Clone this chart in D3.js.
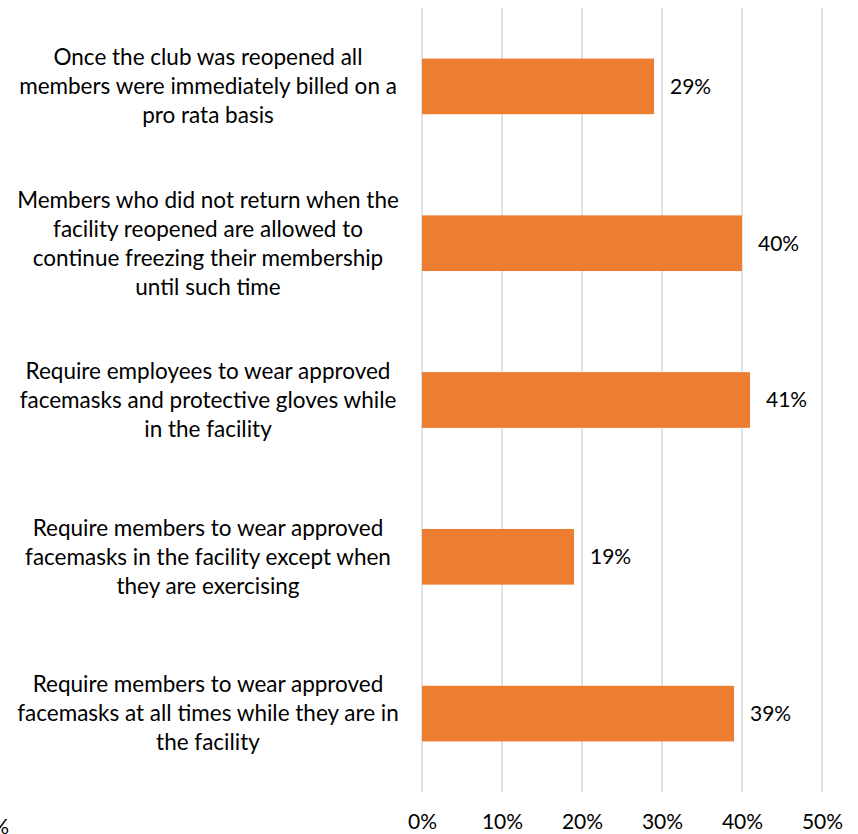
<!DOCTYPE html>
<html>
<head>
<meta charset="utf-8">
<script src="https://cdn.jsdelivr.net/npm/d3@7/dist/d3.min.js"></script>
<style>
  html, body { margin: 0; padding: 0; background: #fff; }
  svg { display: block; }
  text { font-family: Lato, "Noto Sans", sans-serif; fill: #000; }
</style>
</head>
<body>
<svg id="chart" width="858" height="834"></svg>
<script>
// Survey responses: share of clubs applying each reopening policy
const categories = [
  "Once the club was reopened all\nmembers were immediately billed on a\npro rata basis",
  "Members who did not return when the\nfacility reopened are allowed to\ncontinue freezing their membership\nuntil such time",
  "Require employees to wear approved\nfacemasks and protective gloves while\nin the facility",
  "Require members to wear approved\nfacemasks in the facility except when\nthey are exercising",
  "Require members to wear approved\nfacemasks at all times while they are in\nthe facility"
];
const values = [0.29, 0.40, 0.41, 0.19, 0.39];
const tickValues = [0, 0.1, 0.2, 0.3, 0.4, 0.5];

const svg = d3.select("#chart");
const fontSize = 21;
const catFontSize = 22.5;
const lineHeight = 29;

const x = d3.scaleLinear().domain([0, 0.5]).range([422, 822]);
const y = d3.scaleBand().domain(categories).range([8, 792])
  .paddingInner(0.645).paddingOuter(0.3225);

// vertical gridlines
svg.append("g")
  .selectAll("line")
  .data(tickValues)
  .join("line")
  .attr("x1", d => x(d)).attr("x2", d => x(d))
  .attr("y1", 8).attr("y2", 792)
  .attr("stroke", "#d9d9d9")
  .attr("stroke-width", 1.5);

// bars
svg.append("g")
  .selectAll("rect")
  .data(values)
  .join("rect")
  .attr("x", x(0))
  .attr("y", (d, i) => y(categories[i]))
  .attr("width", d => x(d) - x(0))
  .attr("height", y.bandwidth())
  .attr("fill", "#ED7D31");

// value labels
const pct = d3.format(".0%");
svg.append("g")
  .selectAll("text")
  .data(values)
  .join("text")
  .attr("x", d => x(d) + 16)
  .attr("y", (d, i) => y(categories[i]) + y.bandwidth() / 2)
  .attr("dy", "0.35em")
  .attr("font-size", fontSize)
  .text(d => pct(d));

// x-axis tick labels
const xAxis = d3.axisBottom(x).tickValues(tickValues).tickFormat(pct).tickSize(0).tickPadding(0);
const gx = svg.append("g").attr("transform", "translate(0,814)").call(xAxis);
gx.select(".domain").remove();
gx.selectAll("text")
  .attr("font-size", fontSize)
  .attr("font-family", "Lato, 'Noto Sans', sans-serif")
  .attr("fill", "#000");

// label running off the bottom-left edge
svg.append("text")
  .attr("x", 9).attr("y", 834)
  .attr("text-anchor", "end")
  .attr("font-size", fontSize)
  .text("0%");

// category labels, centred multi-line blocks
const cat = svg.append("g")
  .selectAll("text")
  .data(categories)
  .join("text")
  .attr("text-anchor", "middle")
  .attr("font-size", catFontSize)
  .attr("transform", d => `translate(208,${y(d) + y.bandwidth() / 2})`);

cat.each(function(d) {
  const lines = d.split("\n");
  const t = d3.select(this);
  const offset = -(lines.length - 1) / 2 * lineHeight;
  lines.forEach((ln, i) => {
    t.append("tspan")
      .attr("x", 0)
      .attr("y", offset + i * lineHeight)
      .attr("dy", "0.35em")
      .text(ln);
  });
});
</script>
</body>
</html>
